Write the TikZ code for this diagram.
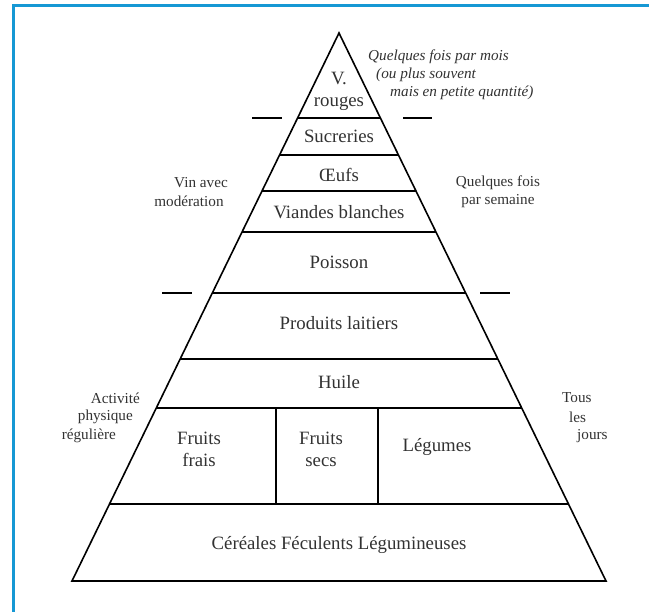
\documentclass[tikz,border=0pt]{standalone}
\usepackage{fontspec}
\setmainfont{Liberation Serif}
\usetikzlibrary{calc}
\definecolor{framecol}{RGB}{22,152,212}
\definecolor{inkgray}{RGB}{50,50,50}
\begin{document}
\begin{tikzpicture}[x=1pt,y=-1pt,
  tier/.style={line width=1.6pt, black},
  food/.style={font=\fontsize{18.8}{22}\selectfont, text=inkgray, align=center, inner sep=0pt},
  note/.style={font=\fontsize{15.2}{18}\selectfont, text=inkgray, align=center, inner sep=0pt},
  hint/.style={font=\fontsize{15.2}{18}\selectfont\itshape, text=inkgray, inner sep=0pt, anchor=west}]

\useasboundingbox (0,0) rectangle (649,612);

% frame
\draw[framecol, line width=3pt] (13,612) -- (13,6) -- (649,6);

% pyramid corners
\coordinate (A) at (339,33);
\coordinate (BL) at (72,581);
\coordinate (BR) at (606,581);

% horizontal tiers
\foreach \n/\y in {1/118,2/155,3/191,4/232,5/293,6/359,7/408,8/504} {
  \coordinate (l\n) at ($(A)!{(\y-33)/548}!(BL)$);
  \coordinate (r\n) at ($(A)!{(\y-33)/548}!(BR)$);
  \draw[tier] (l\n) -- (r\n);
}
\draw[tier, line join=miter] (BL) -- (A) -- (BR) -- cycle;

% fruit dividers
\coordinate (d1t) at (276,408); \coordinate (d1b) at (276,504);
\coordinate (d2t) at (378,408); \coordinate (d2b) at (378,504);
\draw[tier] (d1t) -- (d1b);
\draw[tier] (d2t) -- (d2b);

% frequency separators
\coordinate (ta1) at (252,118); \coordinate (ta2) at (282,118);
\coordinate (tb1) at (403,118); \coordinate (tb2) at (432,118);
\coordinate (tc1) at (162,293); \coordinate (tc2) at (192,293);
\coordinate (td1) at (480,293); \coordinate (td2) at (510,293);
\draw[tier] (ta1) -- (ta2);
\draw[tier] (tb1) -- (tb2);
\draw[tier] (tc1) -- (tc2);
\draw[tier] (td1) -- (td2);

% food groups
\node[food] (vr) at (339,91) {V.\\rouges};
\node[food] (su) at (339,136) {Sucreries};
\node[food] (oe) at (339,175) {Œufs};
\node[food] (vb) at (339,212) {Viandes blanches};
\node[food] (po) at (339,262) {Poisson};
\node[food] (pl) at (339,323) {Produits laitiers};
\node[food] (hu) at (339,382) {Huile};
\node[food] (ff) at (199,449) {Fruits\\frais};
\node[food] (fs) at (321,449) {Fruits\\secs};
\node[food] (le) at (437,447) {Légumes};
\node[food] (ce) at (339,545) {Céréales Féculents Légumineuses};

% frequency notes
\node[hint] (h1) at (368,57) {Quelques fois par mois};
\node[hint] (h2) at (376,75) {(ou plus souvent};
\node[hint] (h3) at (390,93) {mais en petite quantité)};

\node[note] (vin1) at (201,183) {Vin avec};
\node[note] (vin2) at (189,201) {modération};
\node[note] (qs) at (498,192) {Quelques fois\\par semaine};

\node[note, anchor=east] (ac1) at (140,398) {Activité};
\node[note, anchor=east] (ac2) at (133,417) {physique};
\node[note, anchor=east] (ac3) at (116,436) {régulière};

\node[note, anchor=west] (tj1) at (562,398) {Tous};
\node[note, anchor=west] (tj2) at (569,417) {les};
\node[note, anchor=west] (tj3) at (577,436) {jours};
\end{tikzpicture}
\end{document}
